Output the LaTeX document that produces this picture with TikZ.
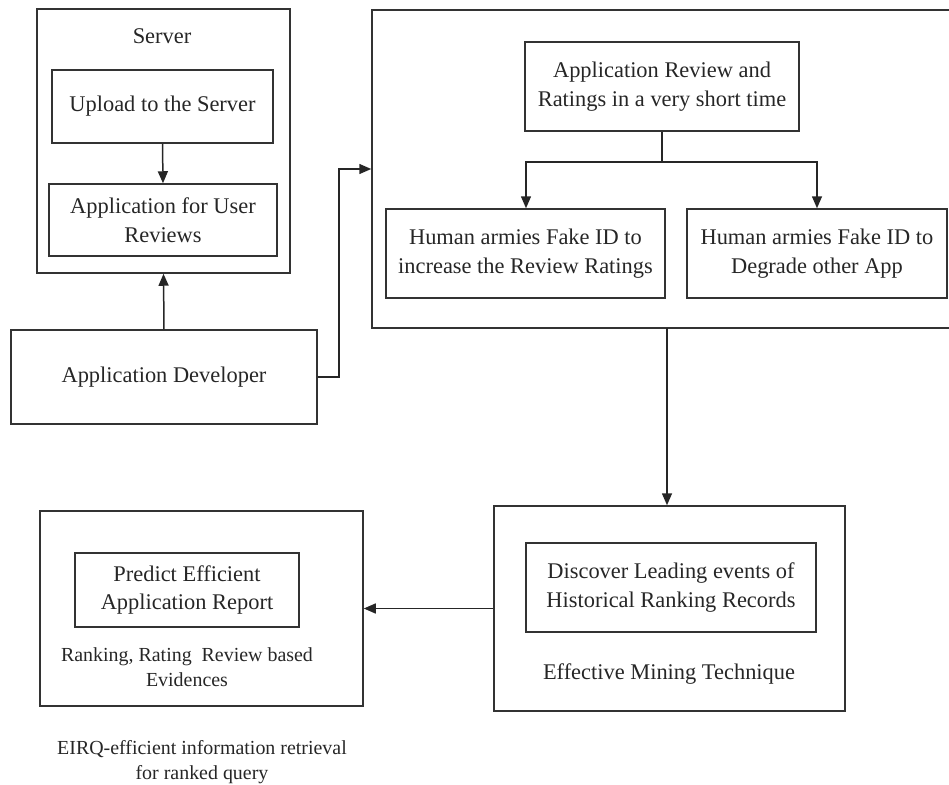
\documentclass[tikz,border=0pt]{standalone}
\usepackage{fontspec}
\setmainfont{Liberation Serif}
\usetikzlibrary{arrows.meta}
\begin{document}
\begin{tikzpicture}[x=1bp,y=-1bp,
  box/.style={draw=black!80, line width=1.5bp, rectangle, inner sep=0pt, align=center},
  lbl/.style={inner sep=0pt, align=center},
  small/.style={font=\fontsize{20}{25}\selectfont},
  conn/.style={draw=black!85, line width=1.5bp},
  arr/.style={conn, -{Triangle[length=12bp,width=10bp]}},
  every node/.style={font=\fontsize{22.5}{29}\selectfont, text=black!85}]
\useasboundingbox (0,0) rectangle (949,785);

% Server group
\node[box, minimum width=253bp, minimum height=264bp] (server) at (163.5,141) {};
\node[lbl] (serverlbl) at (162,36) {Server};
\node[box, minimum width=221bp, minimum height=73bp] (upload) at (162.5,106.5) {Upload to the Server};
\node[box, minimum width=228bp, minimum height=72bp] (appuser) at (163,220) {Application for User\\Reviews};
\node[box, minimum width=306bp, minimum height=94bp] (dev) at (164,377) {Application Developer};

% Big group
\node[box, minimum width=579bp, minimum height=318bp] (big) at (661.5,169) {};
\node[box, minimum width=274bp, minimum height=89bp] (review) at (662,86.5) {Application Review and\\Ratings in a very short time};
\node[box, minimum width=279bp, minimum height=89bp] (fake1) at (525.5,253.5) {Human armies Fake ID to\\increase the Review Ratings};
\node[box, minimum width=260bp, minimum height=89bp] (fake2) at (817,253.5) {Human armies Fake ID to\\Degrade other App};

% Mining group
\node[box, minimum width=351bp, minimum height=205bp] (mining) at (669.5,608.5) {};
\node[box, minimum width=290bp, minimum height=89bp] (discover) at (671,587.5) {Discover Leading events of\\Historical Ranking Records};
\node[lbl] (minlbl) at (669,674) {Effective Mining Technique};

% Report group
\node[box, minimum width=323bp, minimum height=195bp] (report) at (201.5,608.5) {};
\node[box, minimum width=224bp, minimum height=74bp] (predict) at (187,590) {Predict Efficient\\Application Report};
\node[lbl, small] (evid) at (187,667) {Ranking, Rating\ \ Review based\\Evidences};
\node[lbl, small] (eirq) at (202,762) {EIRQ-efficient information retrieval\\for ranked query};

% Connectors
\coordinate (c1) at (339,377);
\coordinate (c2) at (339,169);
\coordinate (br) at (662,162);
\coordinate (brl) at (526,162);
\coordinate (brr) at (817,162);
\coordinate (down) at (667,328);

\draw[arr] (upload.south) -- (appuser.north);
\draw[arr] (dev.north) -- (server.south);
\draw[arr] (dev.east |- c1) -- (c1) -- (c2) -- (big.west |- c2);
\draw[conn] (review.south) -- (br);
\draw[arr] (br) -- (brl) -- (brl |- fake1.north);
\draw[arr] (br) -- (brr) -- (brr |- fake2.north);
\draw[arr] (down) -- (down |- mining.north);
\draw[arr] (mining.west) -- (report.east);
\end{tikzpicture}
\end{document}
